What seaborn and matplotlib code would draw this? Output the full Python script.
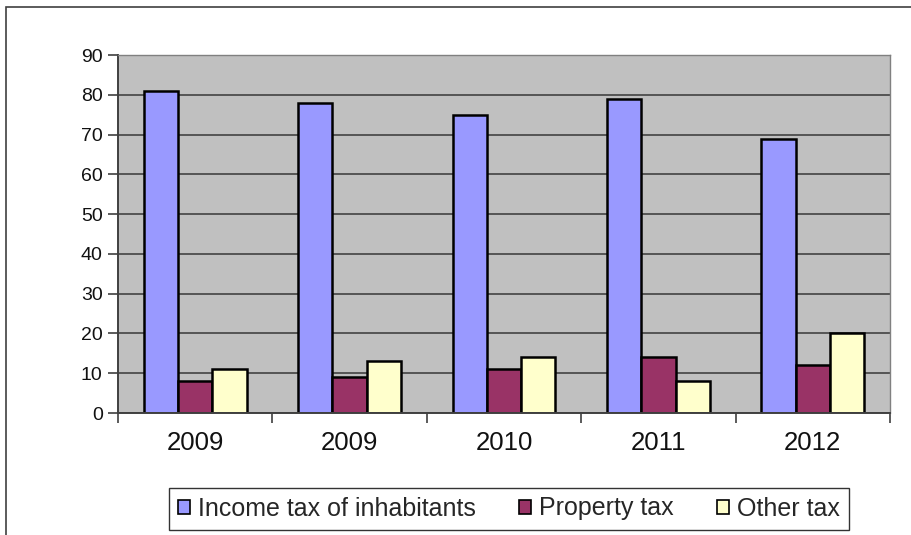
import matplotlib
matplotlib.use("Agg")
import matplotlib.pyplot as plt
import seaborn as sns
import pandas as pd
from matplotlib.patches import Rectangle, Patch

years = ["2009", "2009", "2010", "2011", "2012"]
series_names = ["Income tax of inhabitants", "Property tax", "Other tax"]
income_tax = [81, 78, 75, 79, 69]
property_tax = [8, 9, 11, 14, 12]
other_tax = [11, 13, 14, 8, 20]
colors = ["#9999FF", "#993366", "#FFFFCC"]

rows = []
for i, y in enumerate(years):
    for name, vals in zip(series_names, [income_tax, property_tax, other_tax]):
        rows.append({"pos": i, "year": y, "series": name, "value": vals[i]})
df = pd.DataFrame(rows)

sns.set_theme(style="white")
plt.rcParams["font.family"] = ["Liberation Sans", "DejaVu Sans"]

fig = plt.figure(figsize=(9.11, 5.35), dpi=100)
ax = fig.add_axes([118/911, 1-413/535, (890-118)/911, (413-55)/535])
ax.set_facecolor("#C0C0C0")

sns.barplot(data=df, x="pos", y="value", hue="series", hue_order=series_names,
            palette=colors, saturation=1, width=0.667, edgecolor="black", linewidth=1.8,
            ax=ax, legend=False, order=list(range(len(years))))

ax.set_ylim(0, 90)
ax.set_xlim(-0.5, len(years)-0.5)
ax.set_yticks(range(0, 91, 10))
ax.yaxis.grid(True, color="#383838", linewidth=1.1)
ax.set_axisbelow(True)
ax.set_xlabel("")
ax.set_ylabel("")

ax.set_xticks([i - 0.5 for i in range(len(years)+1)])
ax.set_xticklabels([""] * (len(years)+1))
ax.set_xticks(list(range(len(years))), minor=True)
ax.set_xticklabels(years, minor=True)
ax.tick_params(axis="x", which="major", length=7, width=1.2, color="#404040", direction="out", bottom=True)
ax.tick_params(axis="x", which="minor", length=0, pad=13, labelsize=18.5, labelcolor="#111111")
ax.tick_params(axis="y", length=7, width=1.2, color="#404040", direction="out", left=True, pad=4, labelsize=14, labelcolor="#111111")

for s in ["left", "bottom"]:
    ax.spines[s].set_color("#404040")
    ax.spines[s].set_linewidth(1.4)
for s in ["top", "right"]:
    ax.spines[s].set_color("#808080")
    ax.spines[s].set_linewidth(1.0)

handles = [Patch(facecolor=c, edgecolor="black", linewidth=1.2) for c in colors]
leg = fig.legend(handles, series_names, loc="center", bbox_to_anchor=(509/911, 1-508.5/535),
                 ncol=3, frameon=True, fancybox=False, edgecolor="black", fontsize=18,
                 handlelength=0.48, handleheight=0.48, handletextpad=0.3, columnspacing=1.75,
                 borderpad=0.36, borderaxespad=0)
leg.get_frame().set_linewidth(1.0)

fig.patches.append(Rectangle((6/911, -0.05), 1.2, 1-7/535+0.05, transform=fig.transFigure,
                             fill=False, edgecolor="#404040", linewidth=1.2))

fig.savefig("out.png", dpi=100)
